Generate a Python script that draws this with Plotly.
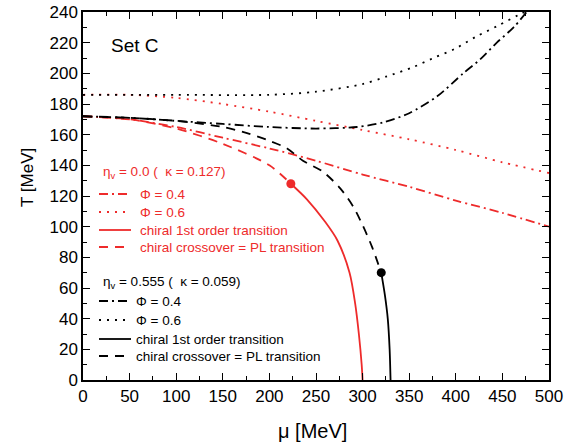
import plotly.graph_objects as go

RED = "#EE2B2B"
BLK = "#000000"

# ---- data (mu [MeV], T [MeV]) ----
# eta_v = 0.0 (kappa = 0.127)
r04_mu = [0, 50, 100, 150, 200, 250, 300, 350, 400, 450, 500]
r04_T = [172, 170, 165, 158, 151, 143, 134, 126, 117, 109, 100]
r06_mu = [0, 50, 100, 150, 200, 250, 300, 350, 400, 450, 500]
r06_T = [186, 186, 184, 180, 175, 169, 163, 157, 150, 142, 135]
rco_mu = [0, 50, 100, 150, 200, 223]
rco_T = [172, 170, 164, 154, 140, 128]
r1st_mu = [223, 240, 260, 273, 286, 292, 296, 299, 300]
r1st_T = [128, 118, 103, 91, 70, 50, 30, 10, 0]
rcep_mu = [223]
rcep_T = [128]

# eta_v = 0.555 (kappa = 0.059)
b04_mu = [0, 50, 100, 150, 200, 250, 294, 322, 350, 380, 408, 426, 444, 462, 476]
b04_T = [172, 171, 169, 167, 165, 164, 165, 168, 174, 185, 200, 209, 220, 230, 240]
b06_mu = [0, 100, 200, 250, 300, 326, 354, 376, 399, 422, 445, 467, 474]
b06_T = [186, 186, 186, 188, 193, 198, 204, 210, 216, 224, 231, 238, 240]
bco_mu = [0, 50, 100, 150, 176, 200, 219, 236, 257, 276, 290, 300, 310, 320]
bco_T = [172, 171, 169, 165, 161, 156, 151, 143, 136, 125, 113, 101, 87, 70]
b1st_mu = [320, 324, 327, 329, 330]
b1st_T = [70, 55, 40, 20, 0]
bcep_mu = [320]
bcep_T = [70]

x_ticks = [0, 50, 100, 150, 200, 250, 300, 350, 400, 450, 500]
y_ticks = [0, 20, 40, 60, 80, 100, 120, 140, 160, 180, 200, 220, 240]

DASHDOT = "9px,4px,2px,4px"
DOT = "2px,6px"
DASH = "9px,7px"
W = 1.8

fig = go.Figure()

def line(x, y, color, dash):
    fig.add_trace(go.Scatter(x=x, y=y, mode="lines", line=dict(color=color, width=W, dash=dash, shape="spline", smoothing=0.8), showlegend=False, hoverinfo="skip"))

line(r06_mu, r06_T, RED, DOT)
line(r04_mu, r04_T, RED, DASHDOT)
line(rco_mu, rco_T, RED, DASH)
line(r1st_mu, r1st_T, RED, "solid")
line(b06_mu, b06_T, BLK, DOT)
line(b04_mu, b04_T, BLK, DASHDOT)
line(bco_mu, bco_T, BLK, DASH)
line(b1st_mu, b1st_T, BLK, "solid")
fig.add_trace(go.Scatter(x=rcep_mu, y=rcep_T, mode="markers", marker=dict(color=RED, size=9), showlegend=False))
fig.add_trace(go.Scatter(x=bcep_mu, y=bcep_T, mode="markers", marker=dict(color=BLK, size=9), showlegend=False))

# ---- layout geometry (pixels) ----
WIDTH, HEIGHT = 579, 445
L, R, T, B = 83, 30, 12, 65
PW, PH = WIDTH - L - R, HEIGHT - T - B

def px(xp):
    return (xp - L) / PW

def py(yp):
    return (HEIGHT - B - yp) / PH

shapes = []
annotations = []
FONT = "Liberation Sans, Arial, sans-serif"
LFS = 13.5

def legend_group(color, header, header_y, rows, text_x):
    annotations.append(dict(x=px(101), y=py(header_y), xref="paper", yref="paper", text=header, showarrow=False,
                            xanchor="left", yanchor="middle", font=dict(family=FONT, size=LFS, color=color)))
    for (dash, label, yrow) in rows:
        shapes.append(dict(type="line", xref="paper", yref="paper", x0=px(99), x1=px(131), y0=py(yrow), y1=py(yrow),
                           line=dict(color=color, width=W, dash=dash)))
        annotations.append(dict(x=px(text_x), y=py(yrow), xref="paper", yref="paper", text=label, showarrow=False,
                                xanchor="left", yanchor="middle", font=dict(family=FONT, size=LFS, color=color)))

legend_group(RED, "η<sub>v</sub> = 0.0 (  κ = 0.127)", 172,
             [(DASHDOT, "Φ = 0.4", 194), (DOT, "Φ = 0.6", 212),
              ("solid", "chiral 1st order transition", 230), (DASH, "chiral crossover = PL transition", 247)], 138)
legend_group(BLK, "η<sub>v</sub> = 0.555 (  κ = 0.059)", 282,
             [(DASHDOT, "Φ = 0.4", 301), (DOT, "Φ = 0.6", 320),
              ("solid", "chiral 1st order transition", 339), (DASH, "chiral crossover = PL transition", 356)], 134)

annotations.append(dict(x=px(109), y=py(45), xref="paper", yref="paper", text="Set C", showarrow=False,
                        xanchor="left", yanchor="middle", font=dict(family=FONT, size=19, color=BLK)))
# axis titles
annotations.append(dict(x=px(312), y=py(431), xref="paper", yref="paper", text="μ [MeV]", showarrow=False,
                        xanchor="center", yanchor="middle", font=dict(family=FONT, size=20, color=BLK)))
annotations.append(dict(x=px(27), y=py(178), xref="paper", yref="paper", text="T [MeV]", showarrow=False,
                        textangle=-90, xanchor="center", yanchor="middle", font=dict(family=FONT, size=17, color=BLK)))

axis_common = dict(showline=True, linecolor=BLK, linewidth=1.5, mirror="ticks", ticks="inside", ticklen=7,
                   tickwidth=1.2, tickcolor=BLK, showgrid=False, zeroline=False, automargin=False,
                   tickfont=dict(family=FONT, size=17, color=BLK))

fig.update_layout(
    width=WIDTH, height=HEIGHT,
    margin=dict(l=L, r=R, t=T, b=B),
    plot_bgcolor="white", paper_bgcolor="white",
    xaxis=dict(range=[0, 500], tickvals=x_ticks, ticktext=[str(v) for v in x_ticks],
               minor=dict(ticks="inside", ticklen=4, dtick=25, tickcolor=BLK, tickwidth=1.2),
               **axis_common),
    yaxis=dict(range=[0, 240], tickvals=y_ticks, ticktext=[str(v) for v in y_ticks],
               minor=dict(ticks="inside", ticklen=4, dtick=10, tickcolor=BLK, tickwidth=1.2),
               **axis_common),
    shapes=shapes, annotations=annotations,
)

fig.write_html("out.html")
